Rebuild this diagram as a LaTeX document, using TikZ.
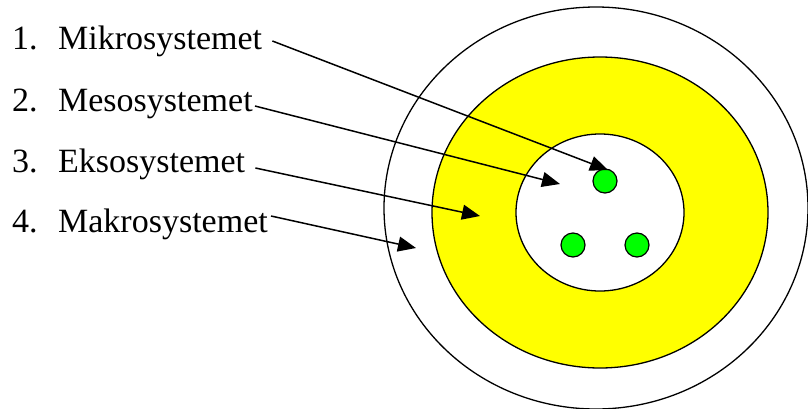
\documentclass[tikz,border=0pt]{standalone}
\usepackage{fontspec}
\setmainfont{Liberation Serif}
\usetikzlibrary{arrows.meta}
\definecolor{ringyellow}{RGB}{255,255,0}
\definecolor{dotgreen}{RGB}{0,255,0}

\begin{document}
\begin{tikzpicture}[
    x=1pt, y=1pt,
    ring/.style={draw=black, line width=1.3pt},
    dot/.style={circle, draw=black, line width=1.2pt, fill=dotgreen,
        minimum size=24pt, inner sep=0pt},
    lbl/.style={anchor=base west, inner sep=0pt, font=\fontsize{34}{40}\selectfont},
    pil/.style={-{Triangle[length=18pt,width=15pt]}, line width=1.5pt}
]
    \useasboundingbox (0,0) rectangle (808,408);
    % the rings
    \draw[ring, fill=white] (596,200) ellipse [x radius=212, y radius=201];
    \draw[ring, fill=ringyellow] (600,195.5) ellipse [x radius=168, y radius=155.5];
    \draw[ring, fill=white] (600,195.5) ellipse [x radius=84, y radius=78.5];
    \node[dot] (d1) at (605,227) {};
    \node[dot] (d2) at (573,163) {};
    \node[dot] (d3) at (637,163) {};

    % labels
    \node[lbl] (l1) at (12,359) {\makebox[46pt][l]{1.}Mikrosystemet};
    \node[lbl] (l2) at (12,297) {\makebox[46pt][l]{2.}Mesosystemet};
    \node[lbl] (l3) at (12,236) {\makebox[46pt][l]{3.}Eksosystemet};
    \node[lbl] (l4) at (12,176) {\makebox[46pt][l]{4.}Makrosystemet};

    \coordinate (t1) at (608,238);
    \coordinate (t2) at (560,224);
    \coordinate (t3) at (480,192);
    \coordinate (t4) at (416,160);

    \draw[pil] ([xshift=10pt,yshift=8pt]l1.base east) -- (t1);
    \draw[pil] ([xshift=2pt,yshift=5pt]l2.base east) -- (t2);
    \draw[pil] ([xshift=10pt,yshift=4pt]l3.base east) -- (t3);
    \draw[pil] ([xshift=3pt,yshift=16pt]l4.base east) -- (t4);
\end{tikzpicture}
\end{document}
